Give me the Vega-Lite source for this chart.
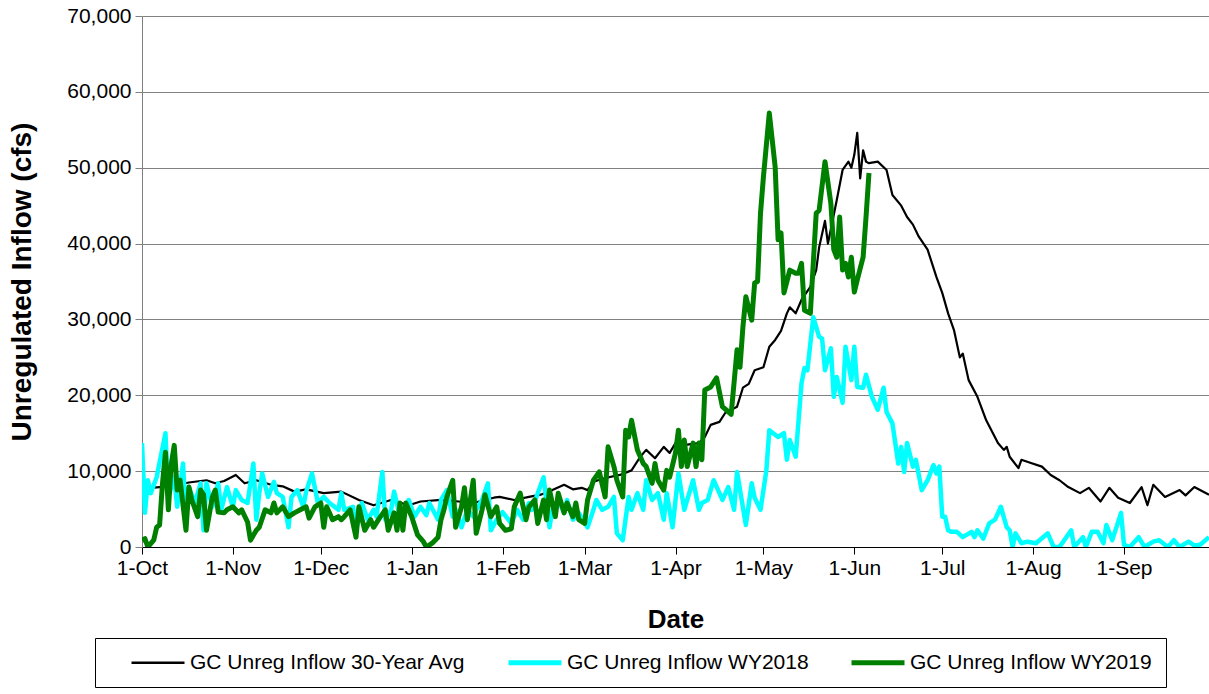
{
"$schema": "https://vega.github.io/schema/vega-lite/v6.json",
"width": 1067, "height": 531,
"autosize": {"type": "none"},
"padding": {"left": 142, "top": 16, "right": 0, "bottom": 147},
"background": "white",
"config": {"font": "Liberation Sans", "view": {"stroke": null}, "legend": {"symbolStrokeWidth": 4}},
"datasets": {
"avg": [
{"date":"2018-10-01","cfs":7000},{"date":"2018-10-04","cfs":7800},{"date":"2018-10-10","cfs":8000},{"date":"2018-10-17","cfs":8500},{"date":"2018-10-23","cfs":8800},{"date":"2018-10-26","cfs":8400},{"date":"2018-10-29","cfs":8700},{"date":"2018-11-02","cfs":9500},{"date":"2018-11-05","cfs":8400},{"date":"2018-11-09","cfs":8800},{"date":"2018-11-14","cfs":8200},{"date":"2018-11-18","cfs":8000},{"date":"2018-11-22","cfs":7300},{"date":"2018-11-26","cfs":7600},{"date":"2018-12-02","cfs":7100},{"date":"2018-12-08","cfs":7300},{"date":"2018-12-14","cfs":6200},{"date":"2018-12-19","cfs":5500},{"date":"2018-12-25","cfs":6200},{"date":"2018-12-31","cfs":5500},{"date":"2019-01-04","cfs":6000},{"date":"2019-01-11","cfs":6200},{"date":"2019-01-17","cfs":6000},{"date":"2019-01-22","cfs":5800},{"date":"2019-01-29","cfs":6500},{"date":"2019-01-31","cfs":6600},{"date":"2019-02-05","cfs":6200},{"date":"2019-02-10","cfs":6600},{"date":"2019-02-14","cfs":6900},{"date":"2019-02-18","cfs":7500},{"date":"2019-02-22","cfs":8200},{"date":"2019-02-25","cfs":7600},{"date":"2019-02-28","cfs":7800},{"date":"2019-03-02","cfs":7500},{"date":"2019-03-04","cfs":8600},{"date":"2019-03-08","cfs":9100},{"date":"2019-03-13","cfs":9500},{"date":"2019-03-17","cfs":10100},{"date":"2019-03-20","cfs":11900},{"date":"2019-03-22","cfs":12800},{"date":"2019-03-25","cfs":11700},{"date":"2019-03-28","cfs":13200},{"date":"2019-03-30","cfs":12400},{"date":"2019-04-01","cfs":13700},{"date":"2019-04-05","cfs":13500},{"date":"2019-04-09","cfs":13700},{"date":"2019-04-11","cfs":14500},{"date":"2019-04-13","cfs":16100},{"date":"2019-04-16","cfs":16500},{"date":"2019-04-18","cfs":17700},{"date":"2019-04-22","cfs":18500},{"date":"2019-04-24","cfs":21000},{"date":"2019-04-26","cfs":21500},{"date":"2019-04-28","cfs":23300},{"date":"2019-05-01","cfs":23700},{"date":"2019-05-03","cfs":26400},{"date":"2019-05-05","cfs":27300},{"date":"2019-05-07","cfs":28500},{"date":"2019-05-09","cfs":30800},{"date":"2019-05-10","cfs":31600},{"date":"2019-05-12","cfs":30800},{"date":"2019-05-14","cfs":32600},{"date":"2019-05-17","cfs":34300},{"date":"2019-05-19","cfs":36500},{"date":"2019-05-20","cfs":39500},{"date":"2019-05-22","cfs":43000},{"date":"2019-05-23","cfs":40000},{"date":"2019-05-26","cfs":45700},{"date":"2019-05-28","cfs":49700},{"date":"2019-05-30","cfs":50800},{"date":"2019-05-31","cfs":50000},{"date":"2019-06-01","cfs":51700},{"date":"2019-06-02","cfs":54600},{"date":"2019-06-03","cfs":48600},{"date":"2019-06-04","cfs":52300},{"date":"2019-06-05","cfs":50800},{"date":"2019-06-06","cfs":50600},{"date":"2019-06-09","cfs":50800},{"date":"2019-06-12","cfs":49700},{"date":"2019-06-14","cfs":46400},{"date":"2019-06-17","cfs":45000},{"date":"2019-06-19","cfs":43500},{"date":"2019-06-21","cfs":42500},{"date":"2019-06-23","cfs":40900},{"date":"2019-06-26","cfs":39200},{"date":"2019-06-29","cfs":35600},{"date":"2019-07-01","cfs":33500},{"date":"2019-07-03","cfs":30800},{"date":"2019-07-05","cfs":28600},{"date":"2019-07-07","cfs":25000},{"date":"2019-07-08","cfs":25500},{"date":"2019-07-10","cfs":22000},{"date":"2019-07-13","cfs":19800},{"date":"2019-07-16","cfs":16700},{"date":"2019-07-20","cfs":13700},{"date":"2019-07-22","cfs":12800},{"date":"2019-07-23","cfs":13200},{"date":"2019-07-24","cfs":11900},{"date":"2019-07-27","cfs":10400},{"date":"2019-07-28","cfs":11500},{"date":"2019-07-31","cfs":11100},{"date":"2019-08-04","cfs":10600},{"date":"2019-08-07","cfs":9500},{"date":"2019-08-10","cfs":8800},{"date":"2019-08-13","cfs":7900},{"date":"2019-08-17","cfs":7100},{"date":"2019-08-20","cfs":7800},{"date":"2019-08-24","cfs":6000},{"date":"2019-08-27","cfs":7800},{"date":"2019-08-30","cfs":6500},{"date":"2019-09-03","cfs":5800},{"date":"2019-09-07","cfs":7900},{"date":"2019-09-09","cfs":5500},{"date":"2019-09-11","cfs":8200},{"date":"2019-09-15","cfs":6600},{"date":"2019-09-20","cfs":7500},{"date":"2019-09-22","cfs":6800},{"date":"2019-09-25","cfs":7900},{"date":"2019-09-30","cfs":6900}
],
"wy18": [
{"date":"2018-10-01","cfs":13700},{"date":"2018-10-02","cfs":4500},{"date":"2018-10-03","cfs":8800},{"date":"2018-10-04","cfs":7100},{"date":"2018-10-06","cfs":9200},{"date":"2018-10-09","cfs":15000},{"date":"2018-10-10","cfs":6600},{"date":"2018-10-12","cfs":9200},{"date":"2018-10-13","cfs":5300},{"date":"2018-10-15","cfs":11000},{"date":"2018-10-16","cfs":3600},{"date":"2018-10-17","cfs":7900},{"date":"2018-10-19","cfs":5800},{"date":"2018-10-21","cfs":8400},{"date":"2018-10-22","cfs":2200},{"date":"2018-10-23","cfs":8400},{"date":"2018-10-25","cfs":5300},{"date":"2018-10-27","cfs":8400},{"date":"2018-10-28","cfs":4900},{"date":"2018-10-30","cfs":7900},{"date":"2018-11-01","cfs":5300},{"date":"2018-11-02","cfs":7500},{"date":"2018-11-04","cfs":6200},{"date":"2018-11-06","cfs":5800},{"date":"2018-11-08","cfs":11000},{"date":"2018-11-09","cfs":3600},{"date":"2018-11-10","cfs":7100},{"date":"2018-11-11","cfs":9700},{"date":"2018-11-13","cfs":6600},{"date":"2018-11-15","cfs":8600},{"date":"2018-11-16","cfs":7100},{"date":"2018-11-18","cfs":6600},{"date":"2018-11-20","cfs":2600},{"date":"2018-11-21","cfs":6600},{"date":"2018-11-23","cfs":7500},{"date":"2018-11-25","cfs":5300},{"date":"2018-11-26","cfs":7300},{"date":"2018-11-28","cfs":9700},{"date":"2018-11-30","cfs":5800},{"date":"2018-12-02","cfs":6600},{"date":"2018-12-04","cfs":5800},{"date":"2018-12-07","cfs":4900},{"date":"2018-12-08","cfs":7100},{"date":"2018-12-09","cfs":4900},{"date":"2018-12-12","cfs":5300},{"date":"2018-12-13","cfs":2200},{"date":"2018-12-15","cfs":5800},{"date":"2018-12-17","cfs":3600},{"date":"2018-12-19","cfs":4900},{"date":"2018-12-20","cfs":4000},{"date":"2018-12-22","cfs":9900},{"date":"2018-12-23","cfs":3600},{"date":"2018-12-25","cfs":4900},{"date":"2018-12-26","cfs":7300},{"date":"2018-12-28","cfs":4000},{"date":"2018-12-30","cfs":5300},{"date":"2018-12-31","cfs":6200},{"date":"2019-01-02","cfs":4000},{"date":"2019-01-04","cfs":5300},{"date":"2019-01-06","cfs":4200},{"date":"2019-01-07","cfs":5800},{"date":"2019-01-10","cfs":3600},{"date":"2019-01-11","cfs":6200},{"date":"2019-01-13","cfs":7500},{"date":"2019-01-15","cfs":4000},{"date":"2019-01-16","cfs":4900},{"date":"2019-01-18","cfs":2600},{"date":"2019-01-20","cfs":4900},{"date":"2019-01-22","cfs":4000},{"date":"2019-01-23","cfs":4900},{"date":"2019-01-25","cfs":6200},{"date":"2019-01-27","cfs":8400},{"date":"2019-01-28","cfs":2200},{"date":"2019-01-30","cfs":3600},{"date":"2019-02-01","cfs":4600},{"date":"2019-02-04","cfs":3100},{"date":"2019-02-06","cfs":4900},{"date":"2019-02-08","cfs":3600},{"date":"2019-02-10","cfs":5800},{"date":"2019-02-11","cfs":4900},{"date":"2019-02-13","cfs":7100},{"date":"2019-02-15","cfs":9200},{"date":"2019-02-17","cfs":2600},{"date":"2019-02-18","cfs":4900},{"date":"2019-02-20","cfs":6200},{"date":"2019-02-22","cfs":4500},{"date":"2019-02-23","cfs":6200},{"date":"2019-02-25","cfs":3600},{"date":"2019-02-27","cfs":4500},{"date":"2019-03-02","cfs":2600},{"date":"2019-03-04","cfs":4900},{"date":"2019-03-05","cfs":6200},{"date":"2019-03-07","cfs":4900},{"date":"2019-03-09","cfs":5300},{"date":"2019-03-11","cfs":6600},{"date":"2019-03-12","cfs":1800},{"date":"2019-03-14","cfs":900},{"date":"2019-03-16","cfs":6600},{"date":"2019-03-17","cfs":4900},{"date":"2019-03-19","cfs":7100},{"date":"2019-03-21","cfs":4900},{"date":"2019-03-22","cfs":8800},{"date":"2019-03-24","cfs":6200},{"date":"2019-03-26","cfs":7100},{"date":"2019-03-28","cfs":3600},{"date":"2019-03-29","cfs":7100},{"date":"2019-03-31","cfs":2600},{"date":"2019-04-02","cfs":9700},{"date":"2019-04-04","cfs":4900},{"date":"2019-04-05","cfs":6200},{"date":"2019-04-07","cfs":8800},{"date":"2019-04-09","cfs":4900},{"date":"2019-04-10","cfs":5800},{"date":"2019-04-12","cfs":6200},{"date":"2019-04-14","cfs":8800},{"date":"2019-04-16","cfs":7100},{"date":"2019-04-17","cfs":6200},{"date":"2019-04-19","cfs":7900},{"date":"2019-04-21","cfs":4900},{"date":"2019-04-22","cfs":9900},{"date":"2019-04-25","cfs":2900},{"date":"2019-04-27","cfs":8400},{"date":"2019-04-28","cfs":6500},{"date":"2019-04-30","cfs":4900},{"date":"2019-05-02","cfs":10100},{"date":"2019-05-03","cfs":15400},{"date":"2019-05-06","cfs":14500},{"date":"2019-05-08","cfs":15000},{"date":"2019-05-09","cfs":11500},{"date":"2019-05-10","cfs":14100},{"date":"2019-05-12","cfs":11900},{"date":"2019-05-14","cfs":21600},{"date":"2019-05-15","cfs":23600},{"date":"2019-05-16","cfs":23300},{"date":"2019-05-18","cfs":30300},{"date":"2019-05-20","cfs":27700},{"date":"2019-05-21","cfs":27500},{"date":"2019-05-22","cfs":23300},{"date":"2019-05-24","cfs":26200},{"date":"2019-05-25","cfs":19800},{"date":"2019-05-26","cfs":22400},{"date":"2019-05-28","cfs":19000},{"date":"2019-05-29","cfs":26400},{"date":"2019-05-31","cfs":22000},{"date":"2019-06-01","cfs":26400},{"date":"2019-06-02","cfs":21100},{"date":"2019-06-04","cfs":21000},{"date":"2019-06-05","cfs":22700},{"date":"2019-06-07","cfs":19800},{"date":"2019-06-09","cfs":18100},{"date":"2019-06-11","cfs":21000},{"date":"2019-06-12","cfs":17800},{"date":"2019-06-14","cfs":16300},{"date":"2019-06-16","cfs":11000},{"date":"2019-06-17","cfs":13200},{"date":"2019-06-18","cfs":9900},{"date":"2019-06-19","cfs":13700},{"date":"2019-06-21","cfs":10600},{"date":"2019-06-22","cfs":11500},{"date":"2019-06-24","cfs":7500},{"date":"2019-06-26","cfs":8800},{"date":"2019-06-28","cfs":10800},{"date":"2019-06-29","cfs":9700},{"date":"2019-06-30","cfs":10600},{"date":"2019-07-01","cfs":4000},{"date":"2019-07-02","cfs":4000},{"date":"2019-07-03","cfs":2200},{"date":"2019-07-04","cfs":2000},{"date":"2019-07-06","cfs":2000},{"date":"2019-07-08","cfs":1300},{"date":"2019-07-11","cfs":2000},{"date":"2019-07-12","cfs":1300},{"date":"2019-07-13","cfs":2200},{"date":"2019-07-15","cfs":1100},{"date":"2019-07-17","cfs":3100},{"date":"2019-07-19","cfs":3600},{"date":"2019-07-21","cfs":5300},{"date":"2019-07-23","cfs":2600},{"date":"2019-07-24","cfs":2200},{"date":"2019-07-25","cfs":0},{"date":"2019-07-26","cfs":1800},{"date":"2019-07-28","cfs":500},{"date":"2019-07-30","cfs":700},{"date":"2019-08-02","cfs":500},{"date":"2019-08-06","cfs":1800},{"date":"2019-08-08","cfs":0},{"date":"2019-08-10","cfs":0},{"date":"2019-08-14","cfs":2200},{"date":"2019-08-15","cfs":0},{"date":"2019-08-18","cfs":1300},{"date":"2019-08-19","cfs":0},{"date":"2019-08-21","cfs":2000},{"date":"2019-08-23","cfs":2000},{"date":"2019-08-25","cfs":500},{"date":"2019-08-26","cfs":2900},{"date":"2019-08-28","cfs":900},{"date":"2019-08-31","cfs":4500},{"date":"2019-09-01","cfs":300},{"date":"2019-09-03","cfs":0},{"date":"2019-09-06","cfs":1300},{"date":"2019-09-08","cfs":0},{"date":"2019-09-11","cfs":700},{"date":"2019-09-13","cfs":900},{"date":"2019-09-16","cfs":0},{"date":"2019-09-18","cfs":900},{"date":"2019-09-20","cfs":0},{"date":"2019-09-23","cfs":700},{"date":"2019-09-25","cfs":200},{"date":"2019-09-27","cfs":300},{"date":"2019-09-30","cfs":1300}
],
"wy19": [
{"date":"2018-10-01","cfs":900},{"date":"2018-10-02","cfs":1100},{"date":"2018-10-03","cfs":0},{"date":"2018-10-05","cfs":900},{"date":"2018-10-06","cfs":2600},{"date":"2018-10-07","cfs":2900},{"date":"2018-10-08","cfs":8400},{"date":"2018-10-09","cfs":12500},{"date":"2018-10-10","cfs":4900},{"date":"2018-10-11","cfs":11000},{"date":"2018-10-12","cfs":13400},{"date":"2018-10-13","cfs":7500},{"date":"2018-10-14","cfs":8800},{"date":"2018-10-16","cfs":2200},{"date":"2018-10-17","cfs":7900},{"date":"2018-10-18","cfs":6200},{"date":"2018-10-20","cfs":4000},{"date":"2018-10-21","cfs":7500},{"date":"2018-10-22","cfs":6900},{"date":"2018-10-23","cfs":2200},{"date":"2018-10-25","cfs":6600},{"date":"2018-10-26","cfs":7500},{"date":"2018-10-27","cfs":4600},{"date":"2018-10-29","cfs":4500},{"date":"2018-10-30","cfs":4900},{"date":"2018-11-01","cfs":5300},{"date":"2018-11-03","cfs":4500},{"date":"2018-11-04","cfs":4900},{"date":"2018-11-06","cfs":3300},{"date":"2018-11-07","cfs":900},{"date":"2018-11-09","cfs":2200},{"date":"2018-11-10","cfs":2600},{"date":"2018-11-12","cfs":4900},{"date":"2018-11-14","cfs":4500},{"date":"2018-11-15","cfs":5800},{"date":"2018-11-16","cfs":4500},{"date":"2018-11-18","cfs":5300},{"date":"2018-11-20","cfs":4000},{"date":"2018-11-22","cfs":4500},{"date":"2018-11-24","cfs":4900},{"date":"2018-11-26","cfs":5300},{"date":"2018-11-27","cfs":3800},{"date":"2018-11-29","cfs":5300},{"date":"2018-12-01","cfs":5800},{"date":"2018-12-02","cfs":2600},{"date":"2018-12-03","cfs":5300},{"date":"2018-12-05","cfs":3600},{"date":"2018-12-07","cfs":4000},{"date":"2018-12-08","cfs":3600},{"date":"2018-12-09","cfs":4000},{"date":"2018-12-11","cfs":4900},{"date":"2018-12-13","cfs":1300},{"date":"2018-12-14","cfs":5300},{"date":"2018-12-16","cfs":2200},{"date":"2018-12-18","cfs":3600},{"date":"2018-12-19","cfs":2600},{"date":"2018-12-21","cfs":3800},{"date":"2018-12-23","cfs":4900},{"date":"2018-12-24","cfs":2200},{"date":"2018-12-26","cfs":4500},{"date":"2018-12-27","cfs":2200},{"date":"2018-12-28","cfs":5800},{"date":"2018-12-29","cfs":2200},{"date":"2018-12-30","cfs":5800},{"date":"2019-01-01","cfs":4000},{"date":"2019-01-03","cfs":1600},{"date":"2019-01-05","cfs":700},{"date":"2019-01-06","cfs":0},{"date":"2019-01-08","cfs":500},{"date":"2019-01-10","cfs":1300},{"date":"2019-01-11","cfs":3600},{"date":"2019-01-12","cfs":4900},{"date":"2019-01-13","cfs":6600},{"date":"2019-01-15","cfs":8800},{"date":"2019-01-16","cfs":2600},{"date":"2019-01-18","cfs":5300},{"date":"2019-01-19","cfs":7800},{"date":"2019-01-20","cfs":3600},{"date":"2019-01-22","cfs":8800},{"date":"2019-01-23","cfs":1800},{"date":"2019-01-25","cfs":4900},{"date":"2019-01-26","cfs":6900},{"date":"2019-01-28","cfs":4000},{"date":"2019-01-30","cfs":5300},{"date":"2019-01-31","cfs":3100},{"date":"2019-02-02","cfs":2200},{"date":"2019-02-04","cfs":2400},{"date":"2019-02-05","cfs":5300},{"date":"2019-02-07","cfs":7100},{"date":"2019-02-09","cfs":3600},{"date":"2019-02-10","cfs":5300},{"date":"2019-02-12","cfs":6200},{"date":"2019-02-13","cfs":3100},{"date":"2019-02-15","cfs":6200},{"date":"2019-02-16","cfs":3600},{"date":"2019-02-17","cfs":7500},{"date":"2019-02-19","cfs":4000},{"date":"2019-02-20","cfs":7100},{"date":"2019-02-22","cfs":4500},{"date":"2019-02-23","cfs":5800},{"date":"2019-02-25","cfs":4000},{"date":"2019-02-26","cfs":5800},{"date":"2019-02-27","cfs":3600},{"date":"2019-03-01","cfs":3100},{"date":"2019-03-02","cfs":6200},{"date":"2019-03-04","cfs":8800},{"date":"2019-03-06","cfs":9900},{"date":"2019-03-08","cfs":6600},{"date":"2019-03-09","cfs":13200},{"date":"2019-03-11","cfs":10600},{"date":"2019-03-12","cfs":8800},{"date":"2019-03-14","cfs":6600},{"date":"2019-03-15","cfs":15400},{"date":"2019-03-16","cfs":14500},{"date":"2019-03-17","cfs":16700},{"date":"2019-03-19","cfs":12800},{"date":"2019-03-21","cfs":11000},{"date":"2019-03-22","cfs":10600},{"date":"2019-03-24","cfs":8400},{"date":"2019-03-25","cfs":11000},{"date":"2019-03-26","cfs":8800},{"date":"2019-03-28","cfs":7500},{"date":"2019-03-29","cfs":10100},{"date":"2019-03-30","cfs":9200},{"date":"2019-04-01","cfs":12400},{"date":"2019-04-02","cfs":15400},{"date":"2019-04-03","cfs":10600},{"date":"2019-04-04","cfs":14100},{"date":"2019-04-05","cfs":10600},{"date":"2019-04-07","cfs":13700},{"date":"2019-04-08","cfs":10600},{"date":"2019-04-09","cfs":13700},{"date":"2019-04-10","cfs":11500},{"date":"2019-04-11","cfs":20700},{"date":"2019-04-13","cfs":21100},{"date":"2019-04-15","cfs":22300},{"date":"2019-04-17","cfs":18500},{"date":"2019-04-20","cfs":17500},{"date":"2019-04-22","cfs":26000},{"date":"2019-04-23","cfs":23700},{"date":"2019-04-24","cfs":29000},{"date":"2019-04-25","cfs":33000},{"date":"2019-04-27","cfs":29900},{"date":"2019-04-28","cfs":34800},{"date":"2019-04-29","cfs":35000},{"date":"2019-04-30","cfs":44000},{"date":"2019-05-01","cfs":48800},{"date":"2019-05-03","cfs":57200},{"date":"2019-05-05","cfs":50100},{"date":"2019-05-06","cfs":40500},{"date":"2019-05-07","cfs":41400},{"date":"2019-05-08","cfs":33500},{"date":"2019-05-10","cfs":36500},{"date":"2019-05-12","cfs":36100},{"date":"2019-05-13","cfs":36100},{"date":"2019-05-14","cfs":37400},{"date":"2019-05-15","cfs":31200},{"date":"2019-05-17","cfs":30800},{"date":"2019-05-19","cfs":44000},{"date":"2019-05-20","cfs":44400},{"date":"2019-05-22","cfs":50800},{"date":"2019-05-24","cfs":45300},{"date":"2019-05-25","cfs":39200},{"date":"2019-05-26","cfs":38200},{"date":"2019-05-27","cfs":43500},{"date":"2019-05-28","cfs":36500},{"date":"2019-05-29","cfs":37400},{"date":"2019-05-30","cfs":35600},{"date":"2019-05-31","cfs":38200},{"date":"2019-06-01","cfs":33600},{"date":"2019-06-02","cfs":35200},{"date":"2019-06-04","cfs":38200},{"date":"2019-06-05","cfs":43500},{"date":"2019-06-06","cfs":49300}
]
},
"encoding": {
  "x": {"field": "date", "type": "temporal",
    "scale": {"type": "utc", "domain": [{"year": 2018, "month": 10, "date": 1, "utc": true}, {"year": 2019, "month": 9, "date": 30, "utc": true}]},
    "axis": {
      "values": [
        {"year": 2018, "month": 10, "date": 1, "utc": true}, {"year": 2018, "month": 11, "date": 1, "utc": true}, {"year": 2018, "month": 12, "date": 1, "utc": true},
        {"year": 2019, "month": 1, "date": 1, "utc": true}, {"year": 2019, "month": 2, "date": 1, "utc": true}, {"year": 2019, "month": 3, "date": 1, "utc": true},
        {"year": 2019, "month": 4, "date": 1, "utc": true}, {"year": 2019, "month": 5, "date": 1, "utc": true}, {"year": 2019, "month": 6, "date": 1, "utc": true},
        {"year": 2019, "month": 7, "date": 1, "utc": true}, {"year": 2019, "month": 8, "date": 1, "utc": true}, {"year": 2019, "month": 9, "date": 1, "utc": true}
      ],
      "format": "%-d-%b", "labelFontSize": 21, "labelColor": "#000", "labelPadding": 3,
      "tickSize": 7, "tickColor": "#000", "domainColor": "#000", "domainWidth": 1, "grid": false,
      "labelOverlap": false, "labelFlush": false,
      "title": "Date", "titleFontSize": 26, "titleFontWeight": "bold", "titleColor": "#000",
      "titleX": 533.5, "titleY": 72, "titleAlign": "center", "titleBaseline": "middle"
    }},
  "y": {"field": "cfs", "type": "quantitative",
    "scale": {"domain": [0, 70000], "nice": false, "zero": true},
    "axis": {
      "values": [0, 10000, 20000, 30000, 40000, 50000, 60000, 70000],
      "format": ",d", "labelFontSize": 21, "labelColor": "#000", "labelPadding": 4,
      "tickSize": 7, "tickColor": "#808080", "domainColor": "#808080",
      "grid": true, "gridColor": "#808080", "gridWidth": 1,
      "title": "Unregulated Inflow (cfs)", "titleFontSize": 28, "titleFontWeight": "bold", "titleColor": "#000",
      "titleX": -120, "titleY": 265.5, "titleAngle": -90, "titleAlign": "center", "titleBaseline": "middle"
    }}
},
"layer": [
  {"data": {"name": "avg"}, "mark": {"type": "line", "strokeJoin": "round", "strokeWidth": 2.2, "clip": true},
   "encoding": {"color": {"datum": "GC Unreg Inflow 30-Year Avg", "type": "nominal",
     "scale": {"domain": ["GC Unreg Inflow 30-Year Avg", "GC Unreg Inflow WY2018", "GC Unreg Inflow WY2019"], "range": ["#000000", "#00FFFF", "#008000"]},
     "legend": {
      "orient": "none", "legendX": -47, "legendY": 622, "direction": "horizontal", "columns": 3,
      "title": null, "symbolType": "M1.714,0H9.286", "symbolSize": 196,
      "labelFontSize": 21, "labelColor": "#000", "labelOffset": 60, "labelLimit": 600,
      "columnPadding": 20, "padding": 14, "strokeColor": "#000", "fillColor": "#fff",
      "encode": {"symbols": {"update": {"strokeWidth": {"signal": "datum.value === 'GC Unreg Inflow 30-Year Avg' ? 2.5 : 5"}}}}
     }}}},
  {"data": {"name": "wy18"}, "mark": {"type": "line", "strokeJoin": "round", "strokeWidth": 4.5, "clip": true},
   "encoding": {"color": {"datum": "GC Unreg Inflow WY2018", "type": "nominal"}}},
  {"data": {"name": "wy19"}, "mark": {"type": "line", "strokeJoin": "round", "strokeWidth": 5, "clip": true},
   "encoding": {"color": {"datum": "GC Unreg Inflow WY2019", "type": "nominal"}}}
]
}
